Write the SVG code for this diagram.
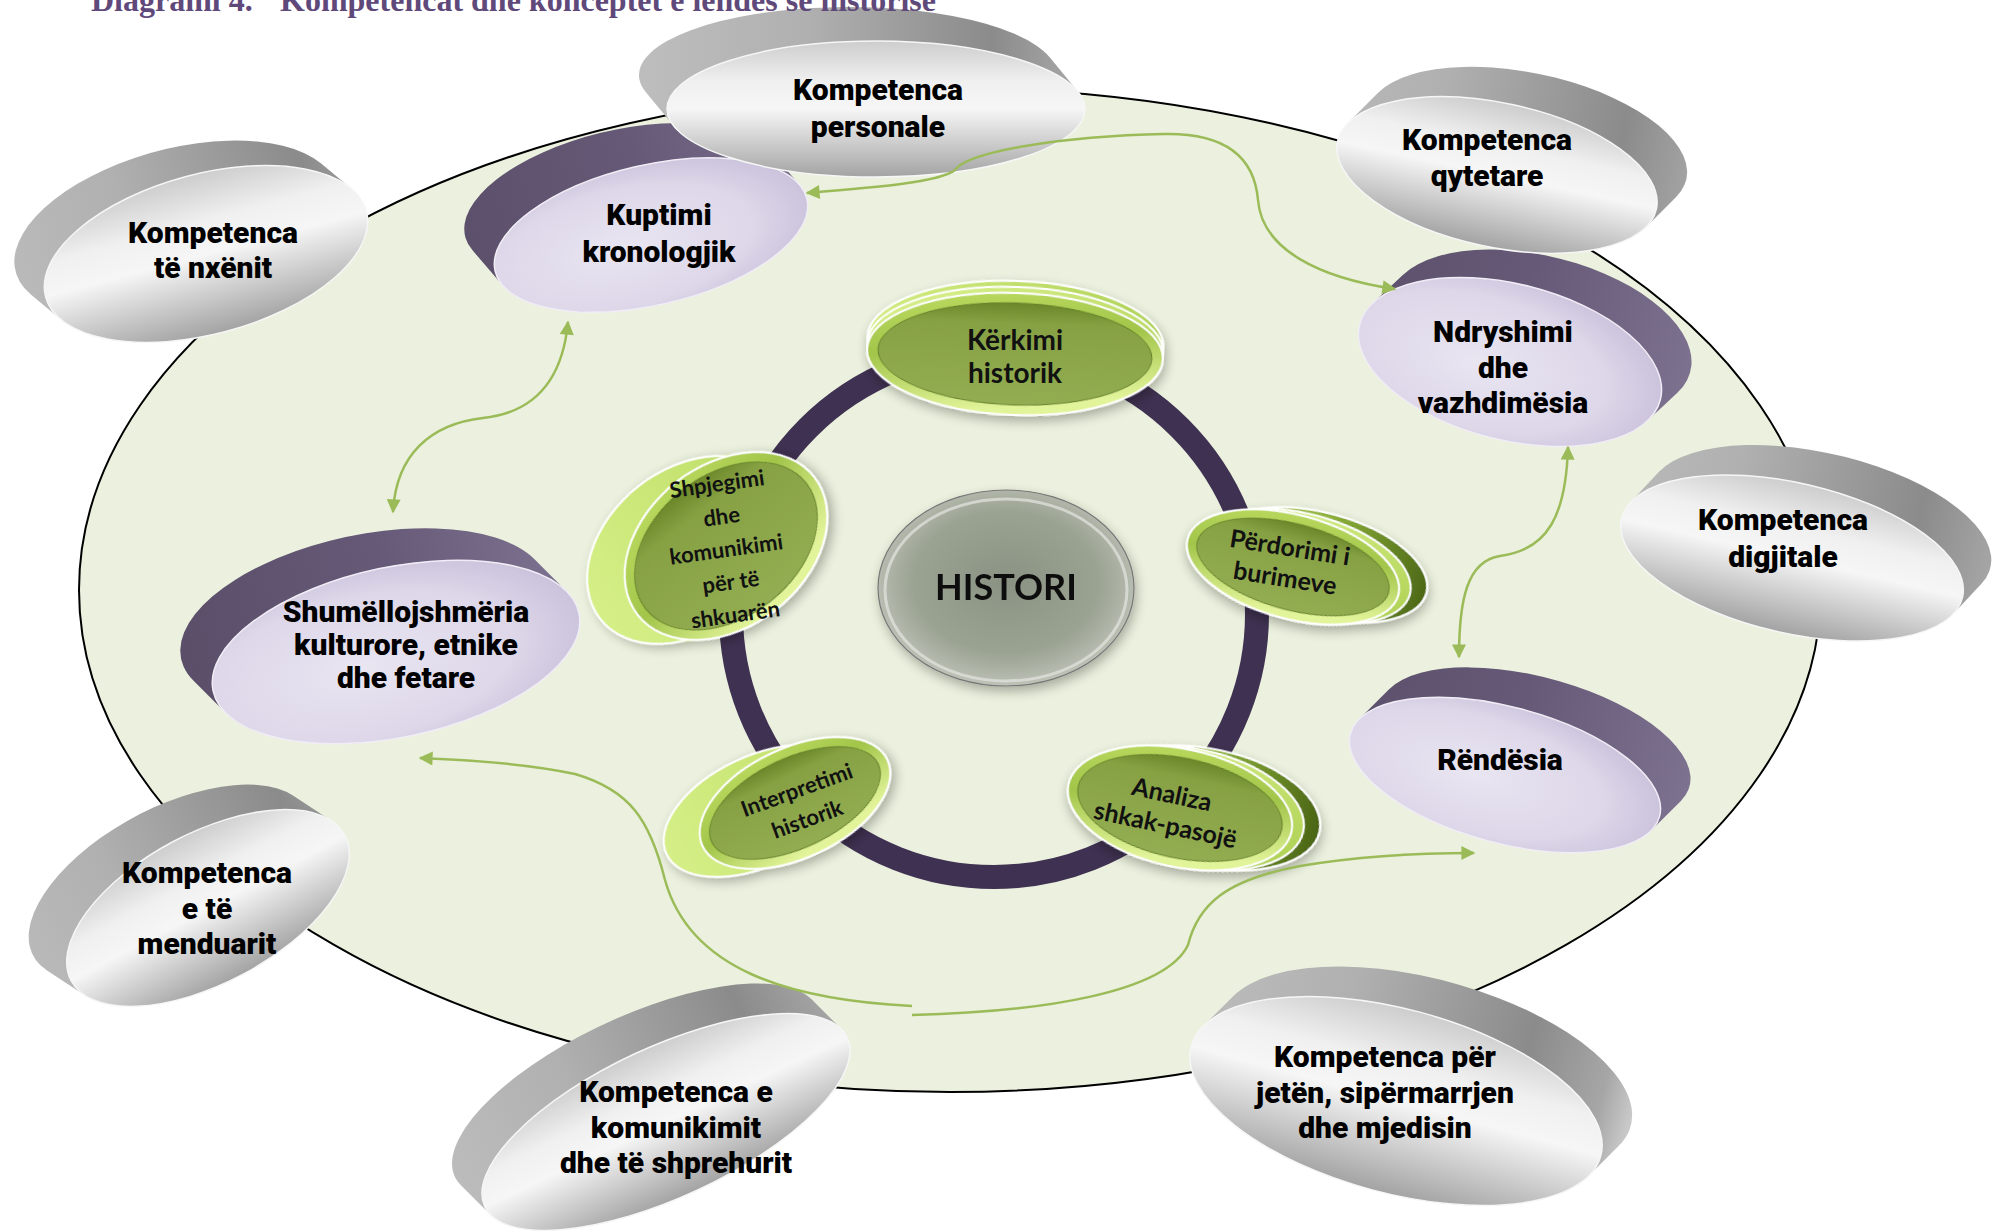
<svg xmlns="http://www.w3.org/2000/svg" width="1993" height="1231" viewBox="0 0 1993 1231">
<defs>
<style>
.lbl{font-family:Roboto,Lato,"Noto Sans","DejaVu Sans",sans-serif;font-weight:900;fill:#000;text-anchor:middle;font-size:30px}
.gl{font-family:Lato,"Open Sans","DejaVu Sans",sans-serif;font-weight:700;fill:#111;text-anchor:middle}
.title{font-family:"Liberation Serif","DejaVu Serif",serif;font-weight:700;fill:#5F497A;font-size:32px}
.con{fill:none;stroke:#9BBB59;stroke-width:2.5}
.both{marker-start:url(#ah);marker-end:url(#ah)}
.end{marker-end:url(#ah)}
.gface{fill:url(#gFace);stroke:#f6f6f6;stroke-width:1.5}
.pface{fill:url(#pFace);stroke:#f1edf6;stroke-width:1.5}
.gside{stroke:url(#gSide);stroke-linecap:round}
.pside{stroke:url(#pSide);stroke-linecap:round}
.rim{fill:url(#cRim);stroke:#ffffff;stroke-width:2}
.cface{fill:url(#cFace);stroke:#64802a;stroke-width:1}
.bl{stroke:#ffffff;stroke-width:2}
.bo{fill:none;stroke:#ffffff;stroke-width:2}
.sw{stroke-linecap:round}
</style>
<marker id="ah" viewBox="0 0 10 10" refX="9" refY="5" markerWidth="16" markerHeight="14" markerUnits="userSpaceOnUse" orient="auto-start-reverse">
<path d="M0,0 L10,5 L0,10 z" fill="#9BBB59"/>
</marker>
<linearGradient id="gFace" x1="0" y1="0" x2="0" y2="1">
<stop offset="0" stop-color="#cdcdcd"/><stop offset="0.3" stop-color="#f0f0f0"/><stop offset="0.5" stop-color="#f6f6f6"/><stop offset="1" stop-color="#a3a3a3"/>
</linearGradient>
<linearGradient id="gSide" gradientUnits="userSpaceOnUse" x1="-230" y1="0" x2="230" y2="0">
<stop offset="0" stop-color="#bdbdbd"/><stop offset="0.35" stop-color="#b0b0b0"/><stop offset="0.75" stop-color="#8b8b8b"/><stop offset="0.93" stop-color="#a6a6a6"/><stop offset="1" stop-color="#c8c8c8"/>
</linearGradient>
<radialGradient id="pFace" cx="0.4" cy="0.55" r="0.7">
<stop offset="0" stop-color="#e9e5f1"/><stop offset="0.6" stop-color="#ddd7e9"/><stop offset="1" stop-color="#c3b8d6"/>
</radialGradient>
<linearGradient id="pSide" gradientUnits="userSpaceOnUse" x1="-230" y1="0" x2="230" y2="0">
<stop offset="0" stop-color="#594d68"/><stop offset="0.5" stop-color="#655977"/><stop offset="1" stop-color="#847897"/>
</linearGradient>
<linearGradient id="cRim" x1="0" y1="0" x2="0.3" y2="1">
<stop offset="0" stop-color="#bedd62"/><stop offset="0.5" stop-color="#a2c54a"/><stop offset="1" stop-color="#e2f49a"/>
</linearGradient>
<linearGradient id="cFace" x1="0" y1="0" x2="0" y2="1">
<stop offset="0" stop-color="#6b8729"/><stop offset="0.2" stop-color="#86a143"/><stop offset="1" stop-color="#93ad52"/>
</linearGradient>
<linearGradient id="cMid" x1="0" y1="0" x2="1" y2="1">
<stop offset="0" stop-color="#dcf28f"/><stop offset="1" stop-color="#a9cd4c"/>
</linearGradient>
<linearGradient id="cSideR" gradientUnits="userSpaceOnUse" x1="-110" y1="0" x2="140" y2="0">
<stop offset="0" stop-color="#c3e06a"/><stop offset="0.55" stop-color="#8aae38"/><stop offset="1" stop-color="#4a6515"/>
</linearGradient>
<linearGradient id="cSideL" gradientUnits="userSpaceOnUse" x1="-150" y1="0" x2="110" y2="0">
<stop offset="0" stop-color="#d6f088"/><stop offset="1" stop-color="#bcdc64"/>
</linearGradient>
<linearGradient id="cSideT" gradientUnits="userSpaceOnUse" x1="-150" y1="0" x2="150" y2="0">
<stop offset="0" stop-color="#d2ec80"/><stop offset="1" stop-color="#b0d257"/>
</linearGradient>
<radialGradient id="hist" cx="0.5" cy="0.47" r="0.6">
<stop offset="0" stop-color="#8a9383"/><stop offset="0.6" stop-color="#9aa292"/><stop offset="0.85" stop-color="#b8beb2"/><stop offset="1" stop-color="#dadcd5"/>
</radialGradient>
<filter id="sh" x="-25%" y="-25%" width="150%" height="150%">
<feGaussianBlur in="SourceAlpha" stdDeviation="6"/>
<feOffset dx="2" dy="5"/>
<feComponentTransfer><feFuncA type="linear" slope="0.3"/></feComponentTransfer>
<feMerge><feMergeNode/><feMergeNode in="SourceGraphic"/></feMerge>
</filter>
</defs>

<rect width="1993" height="1231" fill="#ffffff"/>
<ellipse id="field" cx="950" cy="590" rx="871" ry="502" fill="#EBF1DE" stroke="#000" stroke-width="2"/>
<circle id="ring" cx="994" cy="614" r="263" fill="none" stroke="#3F3151" stroke-width="24"/>

<g id="n-histori" filter="url(#sh)">
<ellipse cx="1006" cy="588" rx="128" ry="98" fill="url(#hist)" stroke="#777" stroke-width="1.2"/>
<ellipse cx="1006" cy="590" rx="121" ry="91" fill="none" stroke="#e4e6e0" stroke-width="3" opacity="0.7"/>
<text class="gl" x="1006" y="600" font-size="36" fill="#222">HISTORI</text>
</g>

<g id="n-kerkimi">
<g transform="translate(1015,354) rotate(2)" filter="url(#sh)">
<g transform="scale(1,0.412)"><line class="sw" x1="0" y1="0" x2="0" y2="-29.1" stroke="url(#cSideT)" stroke-width="296"/></g>
<ellipse class="bo" cx="0" cy="-12" rx="148" ry="61"/>
<ellipse cx="0" cy="-6" rx="148" ry="61" fill="url(#cMid)" class="bl"/>
<ellipse class="rim" rx="148" ry="61"/>
<ellipse class="cface" rx="137" ry="51"/>
</g>
<text class="gl" font-size="28" x="1015" y="350">Kërkimi</text>
<text class="gl" font-size="28" x="1015" y="383">historik</text>
</g>

<g id="n-perdorimi">
<g transform="translate(1293,567) rotate(15)" filter="url(#sh)">
<g transform="scale(1,0.477)"><line class="sw" x1="0" y1="0" x2="26.6" y2="-19.3" stroke="url(#cSideR)" stroke-width="218"/></g>
<ellipse class="bo" cx="26.6" cy="-9.2" rx="109" ry="52"/>
<ellipse cx="11" cy="-3.8" rx="109" ry="52" fill="url(#cMid)" class="bl"/>
<ellipse class="rim" rx="109" ry="52"/>
<ellipse class="cface" rx="99" ry="43"/>
</g>
<g transform="translate(1287,566) rotate(9)">
<text class="gl" font-size="25" y="-10">Përdorimi i</text>
<text class="gl" font-size="25" y="21">burimeve</text>
</g>
</g>

<g id="n-analiza">
<g transform="translate(1180,808) rotate(12)" filter="url(#sh)">
<g transform="scale(1,0.5175)"><line class="sw" x1="0" y1="0" x2="27.4" y2="-11.2" stroke="url(#cSideR)" stroke-width="228"/></g>
<ellipse class="bo" cx="27.4" cy="-5.8" rx="114" ry="59"/>
<ellipse cx="11.5" cy="-2.4" rx="114" ry="59" fill="url(#cMid)" class="bl"/>
<ellipse class="rim" rx="114" ry="59"/>
<ellipse class="cface" rx="104" ry="50"/>
</g>
<g transform="translate(1170,803) rotate(12)">
<text class="gl" font-size="25" y="0">Analiza</text>
<text class="gl" font-size="25" y="31">shkak-pasojë</text>
</g>
</g>

<g id="n-interpretimi">
<g transform="translate(795,803) rotate(-25)" filter="url(#sh)">
<g transform="scale(1,0.539)"><line class="sw" x1="0" y1="0" x2="-36" y2="-14.8" stroke="url(#cSideL)" stroke-width="204"/></g>
<ellipse class="bo" cx="-36" cy="-8" rx="102" ry="55"/>
<ellipse class="rim" rx="102" ry="55"/>
<ellipse class="cface" rx="92" ry="45"/>
</g>
<g transform="translate(801,802) rotate(-20)">
<text class="gl" font-size="22" y="-5">Interpretimi</text>
<text class="gl" font-size="22" y="26">historik</text>
</g>
</g>

<g id="n-shpjegimi">
<g transform="translate(726,546) rotate(-38)" filter="url(#sh)">
<g transform="scale(1,0.723)"><line class="sw" x1="0" y1="0" x2="-32" y2="-27.7" stroke="url(#cSideL)" stroke-width="224"/></g>
<ellipse class="bo" cx="-32" cy="-20" rx="112" ry="81"/>
<ellipse class="rim" rx="112" ry="81"/>
<ellipse class="cface" rx="102" ry="71"/>
</g>
<g transform="translate(726,548) rotate(-8)">
<text class="gl" font-size="22" y="-57">Shpjegimi</text>
<text class="gl" font-size="22" y="-24">dhe</text>
<text class="gl" font-size="22" y="9">komunikimi</text>
<text class="gl" font-size="22" y="42">për të</text>
<text class="gl" font-size="22" y="75">shkuarën</text>
</g>
</g>

<g id="n-kuptimi">
<g transform="translate(651,235) rotate(-13)">
<g transform="scale(1,0.4375)"><line x1="0" y1="0" x2="-21.4" y2="-93.4" class="pside" stroke-width="320"/></g>
<ellipse class="pface" rx="160" ry="70"/>
</g>
<text class="lbl" x="659" y="225">Kuptimi</text>
<text class="lbl" x="659" y="262">kronologjik</text>
</g>

<g id="n-ndryshimi">
<g transform="translate(1510,362) rotate(14)">
<g transform="scale(1,0.5032)"><line x1="0" y1="0" x2="22.3" y2="-68.4" class="pside" stroke-width="310"/></g>
<ellipse class="pface" rx="155" ry="78"/>
</g>
<text class="lbl" x="1503" y="342">Ndryshimi</text>
<text class="lbl" x="1503" y="378">dhe</text>
<text class="lbl" x="1503" y="413">vazhdimësia</text>
</g>

<g id="n-rendesia">
<g transform="translate(1505,775) rotate(15)">
<g transform="scale(1,0.425)"><line x1="0" y1="0" x2="21.2" y2="-86.4" class="pside" stroke-width="320"/></g>
<ellipse class="pface" rx="160" ry="68"/>
</g>
<text class="lbl" x="1500" y="770">Rëndësia</text>
</g>

<g id="n-shumellojshmeria">
<g transform="translate(396,652) rotate(-12)">
<g transform="scale(1,0.4545)"><line x1="0" y1="0" x2="-24.6" y2="-83.5" class="pside" stroke-width="374"/></g>
<ellipse class="pface" rx="187" ry="85"/>
</g>
<text class="lbl" font-size="28" x="406" y="622">Shumëllojshmëria</text>
<text class="lbl" font-size="28" x="406" y="655">kulturore, etnike</text>
<text class="lbl" font-size="28" x="406" y="688">dhe fetare</text>
</g>

<g id="n-nxenit">
<g transform="translate(206,254) rotate(-15)">
<g transform="scale(1,0.482)"><line x1="0" y1="0" x2="-22.5" y2="-66.2" class="gside" stroke-width="332"/></g>
<ellipse class="gface" rx="166" ry="80"/>
</g>
<text class="lbl" x="213" y="243">Kompetenca</text>
<text class="lbl" x="213" y="278">të nxënit</text>
</g>

<g id="n-personale">
<g transform="translate(876,109)">
<g transform="scale(1,0.3254)"><line x1="0" y1="0" x2="-28" y2="-104.5" class="gside" stroke-width="418"/></g>
<ellipse class="gface" rx="209" ry="68"/>
</g>
<text class="lbl" x="878" y="100">Kompetenca</text>
<text class="lbl" x="878" y="137">personale</text>
</g>

<g id="n-qytetare">
<g transform="translate(1497,175) rotate(12)">
<g transform="scale(1,0.4417)"><line x1="0" y1="0" x2="23.1" y2="-80.6" class="gside" stroke-width="326"/></g>
<ellipse class="gface" rx="163" ry="72"/>
</g>
<text class="lbl" x="1487" y="150">Kompetenca</text>
<text class="lbl" x="1487" y="186">qytetare</text>
</g>

<g id="n-digjitale">
<g transform="translate(1792,558) rotate(13)">
<g transform="scale(1,0.4286)"><line x1="0" y1="0" x2="20.5" y2="-82.8" class="gside" stroke-width="350"/></g>
<ellipse class="gface" rx="175" ry="75"/>
</g>
<text class="lbl" x="1783" y="530">Kompetenca</text>
<text class="lbl" x="1783" y="567">digjitale</text>
</g>

<g id="n-jeten">
<g transform="translate(1396,1101) rotate(15)">
<g transform="scale(1,0.434)"><line x1="0" y1="0" x2="21.2" y2="-84.6" class="gside" stroke-width="424"/></g>
<ellipse class="gface" rx="212" ry="92"/>
</g>
<text class="lbl" x="1385" y="1067">Kompetenca për</text>
<text class="lbl" x="1385" y="1103">jetën, sipërmarrjen</text>
<text class="lbl" x="1385" y="1138">dhe mjedisin</text>
</g>

<g id="n-komunikimit">
<g transform="translate(666,1122) rotate(-25)">
<g transform="scale(1,0.375)"><line x1="0" y1="0" x2="-14.5" y2="-106.4" class="gside" stroke-width="400"/></g>
<ellipse class="gface" rx="200" ry="75"/>
</g>
<text class="lbl" x="676" y="1102">Kompetenca e</text>
<text class="lbl" x="676" y="1138">komunikimit</text>
<text class="lbl" x="676" y="1173">dhe të shprehurit</text>
</g>

<g id="n-menduarit">
<g transform="translate(208,908) rotate(-28)">
<g transform="scale(1,0.4839)"><line x1="0" y1="0" x2="-21.8" y2="-82.5" class="gside" stroke-width="310"/></g>
<ellipse class="gface" rx="155" ry="75"/>
</g>
<text class="lbl" x="207" y="883">Kompetenca</text>
<text class="lbl" x="207" y="919">e të</text>
<text class="lbl" x="207" y="954">menduarit</text>
</g>

<g id="connectors">
<path class="con both" d="M807,193 C880,187 940,182 955,170 C968,152 1060,136 1165,134 C1235,133 1255,165 1258,200 C1262,250 1320,278 1395,289"/>
<path class="con both" d="M568,322 C562,385 530,413 483,418 C430,424 396,455 393,512"/>
<path class="con both" d="M1568,447 C1566,515 1548,550 1500,556 C1467,561 1459,600 1459,657"/>
<path class="con end" d="M912,1006 C790,1000 690,970 665,880 C650,820 630,790 575,774 C530,764 470,760 420,758"/>
<path class="con end" d="M912,1015 C1040,1012 1165,993 1188,945 C1198,905 1225,880 1300,866 C1360,856 1420,853 1474,853"/>
</g>

<g id="title">
<text class="title" x="91" y="11">Diagrami 4.</text>
<text class="title" x="280" y="11">Kompetencat dhe konceptet e lëndës së historisë</text>
</g>
</svg>
